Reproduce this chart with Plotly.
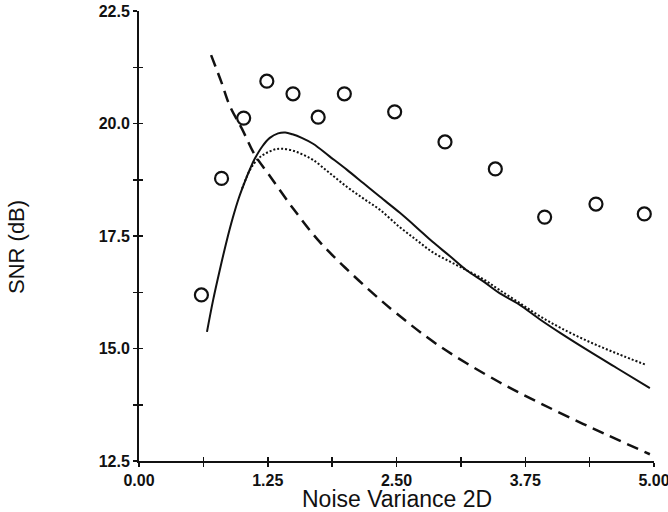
import plotly.graph_objects as go

# ---- data ----
circle_x = [0.62, 0.82, 1.04, 1.27, 1.53, 1.78, 2.04, 2.54, 3.04, 3.54, 4.03, 4.54, 5.02]
circle_y = [16.19, 18.78, 20.12, 20.94, 20.66, 20.14, 20.66, 20.26, 19.59, 18.99, 17.92, 18.21, 17.99]

solid_x = [0.66, 0.72, 0.79, 0.85, 0.91, 0.97, 1.03, 1.08, 1.125, 1.20, 1.27, 1.35, 1.42, 1.49,
           1.58, 1.69, 1.85, 2.02, 2.18, 2.34, 2.53, 2.70, 2.85, 3.02, 3.18, 3.35, 3.50, 3.69,
           3.89, 4.10, 4.37, 4.65, 4.96]
solid_y = [15.37, 16.08, 16.80, 17.38, 17.90, 18.35, 18.72, 19.00, 19.22, 19.50, 19.68, 19.78, 19.80, 19.76,
           19.68, 19.55, 19.27, 18.97, 18.67, 18.37, 18.02, 17.68, 17.37, 17.05, 16.74, 16.48, 16.23, 15.98,
           15.65, 15.33, 14.94, 14.55, 14.12]

dotted_x = [1.00, 1.08, 1.15, 1.21, 1.27, 1.33, 1.39, 1.49, 1.58, 1.69, 1.85, 2.02, 2.18, 2.34,
            2.53, 2.70, 2.85, 3.02, 3.18, 3.35, 3.50, 3.69, 3.89, 4.10, 4.37, 4.65, 4.93]
dotted_y = [18.55, 18.98, 19.20, 19.31, 19.38, 19.43, 19.44, 19.40, 19.32, 19.19, 18.90, 18.59, 18.33, 18.08,
            17.70, 17.40, 17.14, 16.93, 16.74, 16.53, 16.30, 16.02, 15.72, 15.45, 15.15, 14.88, 14.63]

dashed_x = [0.70, 0.80, 0.88, 1.00, 1.125, 1.25, 1.50, 1.75, 2.00, 2.25, 2.50, 2.92, 3.50, 3.89, 4.40, 4.96]
dashed_y = [21.52, 20.92, 20.40, 19.88, 19.30, 18.90, 18.10, 17.38, 16.80, 16.27, 15.78, 15.05, 14.25, 13.79, 13.23, 12.65]

x_ticks = [0.00, 1.25, 2.50, 3.75, 5.00]
x_tick_text = ["0.00", "1.25", "2.50", "3.75", "5.00"]
y_ticks = [12.5, 15.0, 17.5, 20.0, 22.5]
y_tick_text = ["12.5", "15.0", "17.5", "20.0", "22.5"]

INK = "#111111"

# layout geometry (page body margin removed in post_script)
L, R, T, B = 139, 2, 11, 51
W = 668 - L - R
H = 512 - T - B
AX_W = 515
dom_end = AX_W / W
X_MAX = 5.0
x_wide_max = X_MAX * W / AX_W   # same data->pixel scale, wider box (for marks beyond 5.00)

fig = go.Figure()

fig.add_trace(go.Scatter(x=dashed_x, y=dashed_y, mode="lines", line_shape="spline",
                         line=dict(color=INK, width=2.5, dash="12px,7px"), cliponaxis=False))
fig.add_trace(go.Scatter(x=dotted_x, y=dotted_y, mode="lines", line_shape="spline",
                         line=dict(color=INK, width=2, dash="2px,2px"), cliponaxis=False))
fig.add_trace(go.Scatter(x=solid_x, y=solid_y, mode="lines", line_shape="spline",
                         line=dict(color=INK, width=2), cliponaxis=False))
fig.add_trace(go.Scatter(x=circle_x, y=circle_y, mode="markers", xaxis="x3",
                         marker=dict(symbol="circle-open", size=13, color=INK, line=dict(width=2.2)),
                         cliponaxis=False))

# overlay axes carrying the inner half of the crossing ticks
fig.add_trace(go.Scatter(x=[None], y=[None], xaxis="x2", yaxis="y2", showlegend=False))

tickfont = dict(family="Liberation Sans", size=16, color=INK, weight="bold")
tk = dict(ticklen=4, tickwidth=1.5, tickcolor=INK)

fig.update_layout(
    width=668, height=512,
    margin=dict(l=L, r=R, t=T, b=B),
    paper_bgcolor="white", plot_bgcolor="white",
    showlegend=False,
    hovermode=False,
    xaxis=dict(domain=[0, dom_end], range=[0, X_MAX], tickvals=x_ticks, ticktext=x_tick_text,
               ticks="outside", **tk, showline=True, linecolor=INK, linewidth=2,
               showgrid=False, zeroline=False, tickfont=tickfont, automargin=False,
               ticklabeloverflow="allow",
               minor=dict(ticks="outside", dtick=0.625, tick0=0, **tk)),
    yaxis=dict(range=[12.5, 22.5], tickvals=y_ticks, ticktext=y_tick_text, ticks="outside", **tk,
               showline=True, linecolor=INK, linewidth=2, ticklabeloverflow="allow",
               showgrid=False, zeroline=False, tickfont=tickfont, automargin=False,
               minor=dict(ticks="outside", dtick=1.25, tick0=12.5, **tk)),
    xaxis2=dict(domain=[0, dom_end], overlaying="x", anchor="y", range=[0, X_MAX], tickvals=x_ticks,
                ticks="inside", **tk, showticklabels=False, showline=False, showgrid=False,
                zeroline=False, automargin=False,
                minor=dict(ticks="inside", dtick=0.625, tick0=0, **tk)),
    yaxis2=dict(overlaying="y", anchor="x", range=[12.5, 22.5], tickvals=y_ticks, ticks="inside", **tk,
                showticklabels=False, showline=False, showgrid=False, zeroline=False, automargin=False,
                minor=dict(ticks="inside", dtick=1.25, tick0=12.5, **tk)),
    xaxis3=dict(domain=[0, 1], overlaying="x", anchor="y", range=[0, x_wide_max], visible=False,
                automargin=False),
    annotations=[
        dict(text="Noise Variance 2D", xref="paper", yref="paper", x=(397 - L) / W, y=0, yshift=-38,
             showarrow=False, xanchor="center", yanchor="middle",
             font=dict(family="Liberation Sans", size=23, color=INK)),
        dict(text="SNR (dB)", xref="paper", yref="paper", x=0, xshift=16 - L, y=(461 - 247) / H,
             showarrow=False, textangle=-90, xanchor="center", yanchor="middle",
             font=dict(family="Liberation Sans", size=22, color=INK)),
    ],
)

fig.write_html("out.html", config={"displayModeBar": False, "staticPlot": True},
               post_script="document.body.style.margin='0';document.body.style.overflow='hidden';")
